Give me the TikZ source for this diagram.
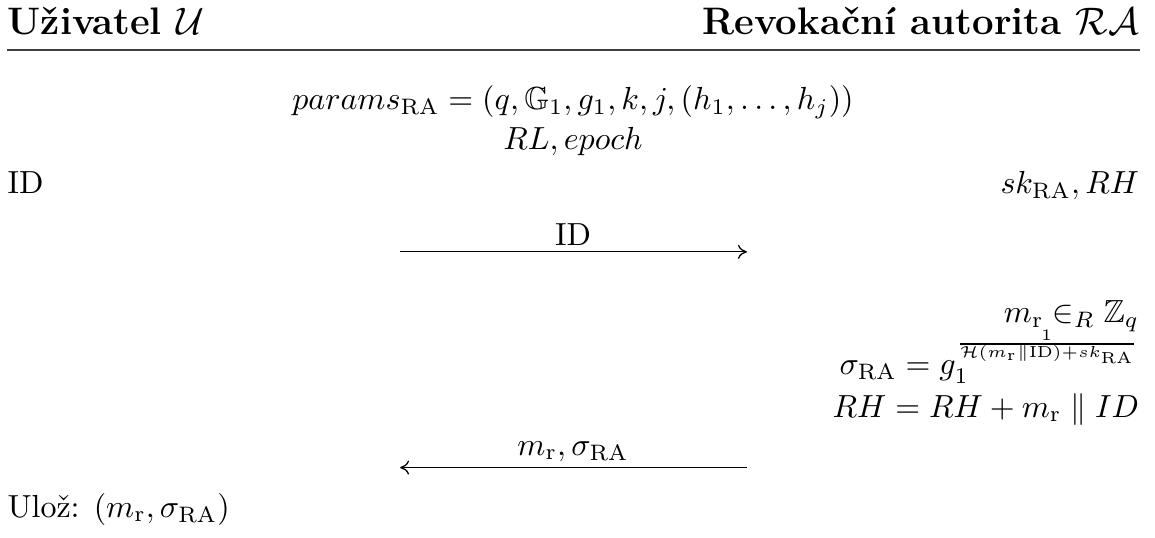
\documentclass[tikz,border=0pt]{standalone}
\usepackage{amsmath}
\usepackage{amssymb}
\usepackage{fontspec}
\usepackage{tikz}
\usetikzlibrary{arrows.meta,positioning}

\begin{document}
\begin{tikzpicture}[
    x=1pt,y=1pt,
    >={To[length=2.8pt,width=4.4pt]},
    head/.style={font=\large\bfseries,inner sep=0pt},
    entry/.style={inner sep=0pt},
    flow/.style={->,line width=0.4pt},
    rule/.style={line width=0.6pt,draw=black!75}
  ]
    \useasboundingbox (0,0) rectangle (361.4,-168.3);

    \node[head,anchor=base west] (user) at (2.2,-10.9) {Uživatel $\mathcal{U}$};
    \node[head,anchor=base east] (ra) at (356.6,-10.9) {Revokační autorita $\mathcal{RA}$};
    \coordinate (ruleL) at (2.2,-15.6);
    \coordinate (ruleR) at (356.6,-15.6);
    \draw[rule] (ruleL) -- (ruleR);

    \node[entry,anchor=base] (params) at (179.3,-34.4) {$params_{\mathrm{RA}} = (q, \mathbb{G}_1, g_1, k, j, (h_1, \dots, h_j))$};
    \node[entry,anchor=base] (rl) at (179.3,-46.9) {$RL, epoch$};

    \node[entry,anchor=base west] (uid) at (2.2,-60.5) {ID};
    \node[entry,anchor=base east] (rakey) at (356.6,-60.5) {$sk_{\mathrm{RA}}, RH$};

    \coordinate (sendL) at (125.2,-78.8);
    \coordinate (sendR) at (233.7,-78.8);
    \node[entry,anchor=base] (msgid) at (179.3,-76.8) {ID};
    \draw[flow] (sendL) -- (sendR);

    \node[entry,anchor=base east] (pick) at (356.6,-101) {$m_{\mathrm{r}} \in_R \mathbb{Z}_q$};
    \node[entry,anchor=base east] (sign) at (356.6,-117.3) {$\sigma_{\mathrm{RA}} = g_1^{\frac{1}{\mathcal{H}(m_{\mathrm{r}}\|\mathrm{ID})+sk_{\mathrm{RA}}}}$};
    \node[entry,anchor=base east] (upd) at (356.6,-130.5) {$RH = RH + m_{\mathrm{r}} \parallel ID$};

    \coordinate (backR) at (233.7,-146.3);
    \coordinate (backL) at (125.2,-146.3);
    \node[entry,anchor=base] (msgsig) at (179.3,-142.4) {$m_{\mathrm{r}}, \sigma_{\mathrm{RA}}$};
    \draw[flow] (backR) -- (backL);

    \node[entry,anchor=base west] (store) at (2.2,-161.8) {Ulož: $(m_{\mathrm{r}}, \sigma_{\mathrm{RA}})$};
\end{tikzpicture}
\end{document}
